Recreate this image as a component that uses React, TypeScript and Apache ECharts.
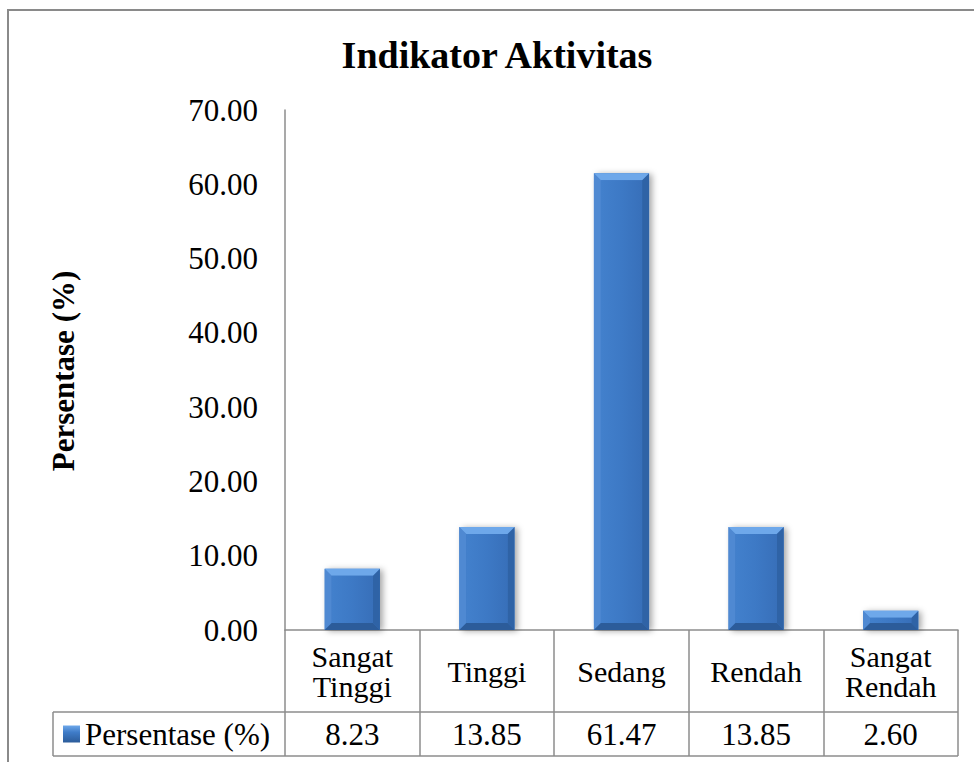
import React, { useEffect, useRef } from "react";
import * as echarts from "echarts";

const categories: string[] = ["Sangat\nTinggi", "Tinggi", "Sedang", "Rendah", "Sangat\nRendah"];
const values: number[] = [8.23, 13.85, 61.47, 13.85, 2.6];
const seriesName = "Persentase (%)";
const titleText = "Indikator Aktivitas";
const yAxisTitle = "Persentase (%)";
const yMin = 0;
const yMax = 70;
const yInterval = 10;

const W = 974;
const H = 762;
const GRID_LEFT = 285;
const GRID_RIGHT = 16;
const GRID_TOP = 110;
const GRID_BOTTOM = 132;
const FONT = "Liberation Serif, Times New Roman, serif";
const LINE = "#8c8c8c";

export default function App() {
  const ref = useRef<HTMLDivElement>(null);

  useEffect(() => {
    if (!ref.current) return;
    const chart = echarts.init(ref.current, undefined, { renderer: "svg" });

    const axisY = H - GRID_BOTTOM; // 630
    const rowY = 712;
    const bottomY = 756;
    const tableLeft = 53;
    const tableRight = W - GRID_RIGHT;

    const renderBar = (params: any, api: any) => {
      const idx = api.value(0);
      const v = api.value(1);
      const top = api.coord([idx, v]);
      const base = api.coord([idx, 0]);
      const band = api.size([1, 0])[0];
      const bw = band * 0.41;
      const x0 = top[0] - bw / 2;
      const x1 = top[0] + bw / 2;
      const yT = top[1];
      const yB = base[1];
      const h = yB - yT;
      const b = Math.min(7, h / 2, bw / 2);
      return {
        type: "group",
        children: [
          {
            type: "rect",
            shape: { x: x0, y: yT, width: bw, height: h },
            style: {
              fill: "#3c77c3",
              shadowBlur: 6,
              shadowColor: "rgba(0,0,0,0.35)",
              shadowOffsetX: 3,
              shadowOffsetY: 1,
            },
          },
          {
            type: "polygon",
            shape: { points: [[x0, yT], [x0 + b, yT + b], [x0 + b, yB - b], [x0, yB]] },
            style: { fill: "#4f89d2" },
          },
          {
            type: "polygon",
            shape: { points: [[x1, yT], [x1 - b, yT + b], [x1 - b, yB - b], [x1, yB]] },
            style: { fill: "#2f63a6" },
          },
          {
            type: "polygon",
            shape: { points: [[x0, yB], [x1, yB], [x1 - b, yB - b], [x0 + b, yB - b]] },
            style: { fill: "#2c5c9a" },
          },
          {
            type: "polygon",
            shape: { points: [[x0, yT], [x1, yT], [x1 - b, yT + b], [x0 + b, yT + b]] },
            style: { fill: "#6ea8ea" },
          },
          {
            type: "rect",
            shape: { x: x0 + b, y: yT + b, width: Math.max(0, bw - 2 * b), height: Math.max(0, h - 2 * b) },
            style: {
              fill: new echarts.graphic.LinearGradient(0, 0, 1, 0, [
                { offset: 0, color: "#4280cc" },
                { offset: 0.5, color: "#3d79c5" },
                { offset: 1, color: "#3870ba" },
              ]),
            },
          },
        ],
      };
    };

    const option: any = {
      animation: false,
      backgroundColor: "#ffffff",
      title: {
        text: titleText,
        left: 497,
        top: 36,
        textAlign: "center",
        padding: 0,
        textStyle: {
          fontFamily: FONT,
          fontSize: 38,
          fontWeight: "bold",
          color: "#000",
          lineHeight: 38,
        },
      },
      legend: {
        left: 63,
        top: 717,
        padding: 0,
        itemWidth: 17,
        itemHeight: 17,
        selectedMode: false,
        data: [
          {
            name: seriesName,
            icon: "rect",
            itemStyle: {
              color: new echarts.graphic.LinearGradient(0, 0, 0, 1, [
                { offset: 0, color: "#6ea8ea" },
                { offset: 0.4, color: "#3f7cc8" },
                { offset: 1, color: "#2c5c9a" },
              ]),
            },
          },
        ],
        textStyle: { fontFamily: FONT, fontSize: 31, color: "#000", lineHeight: 34 },
      },
      grid: { left: GRID_LEFT, right: GRID_RIGHT, top: GRID_TOP, bottom: GRID_BOTTOM, containLabel: false },
      xAxis: [
        {
          type: "category",
          data: categories,
          position: "bottom",
          axisLine: { show: true, lineStyle: { color: LINE, width: 1.5 } },
          axisTick: {
            show: true,
            alignWithLabel: false,
            inside: false,
            length: bottomY - axisY,
            lineStyle: { color: LINE, width: 1.5 },
          },
          axisLabel: {
            fontFamily: FONT,
            fontSize: 30,
            lineHeight: 30,
            color: "#000",
            margin: 41,
            verticalAlign: "middle",
            align: "center",
            interval: 0,
          },
          splitLine: { show: false },
        },
        {
          type: "category",
          data: values.map((v) => v.toFixed(2)),
          position: "bottom",
          offset: 0,
          axisLine: { show: false },
          axisTick: { show: false },
          axisLabel: {
            fontFamily: FONT,
            fontSize: 31,
            color: "#000",
            margin: 104,
            verticalAlign: "middle",
            align: "center",
            interval: 0,
          },
          splitLine: { show: false },
        },
      ],
      yAxis: {
        type: "value",
        min: yMin,
        max: yMax,
        interval: yInterval,
        axisLine: { show: true, lineStyle: { color: LINE, width: 1.5 } },
        axisTick: { show: false },
        splitLine: { show: false },
        axisLabel: {
          fontFamily: FONT,
          fontSize: 31,
          color: "#000",
          margin: 27,
          formatter: (v: number) => v.toFixed(2),
        },
      },
      graphic: [
        {
          type: "rect",
          silent: true,
          shape: { x: 8, y: 10, width: 1200, height: 1000 },
          style: { fill: "none", stroke: "#8a8a8a", lineWidth: 2 },
        },
        {
          type: "text",
          silent: true,
          x: 63,
          y: 371,
          rotation: Math.PI / 2,
          style: {
            text: yAxisTitle,
            fontFamily: FONT,
            fontSize: 31,
            fontWeight: "bold",
            fill: "#000",
            align: "center",
            verticalAlign: "middle",
          },
        },
        {
          type: "line",
          silent: true,
          shape: { x1: tableLeft, y1: rowY, x2: tableRight, y2: rowY },
          style: { stroke: LINE, lineWidth: 1.5 },
        },
        {
          type: "line",
          silent: true,
          shape: { x1: tableLeft, y1: bottomY, x2: tableRight, y2: bottomY },
          style: { stroke: LINE, lineWidth: 1.5 },
        },
        {
          type: "line",
          silent: true,
          shape: { x1: tableLeft, y1: rowY, x2: tableLeft, y2: bottomY },
          style: { stroke: LINE, lineWidth: 1.5 },
        },
      ],
      series: [
        {
          name: seriesName,
          type: "custom",
          xAxisIndex: 0,
          yAxisIndex: 0,
          renderItem: renderBar,
          itemStyle: { color: "#3c77c3" },
          encode: { x: 0, y: 1 },
          data: values.map((v, i) => [i, v]),
        },
      ],
    };

    chart.setOption(option);
    return () => chart.dispose();
  }, []);

  return (
    <div
      ref={ref}
      style={{ position: "absolute", left: 0, top: 0, width: W, height: H, background: "#fff" }}
    />
  );
}
